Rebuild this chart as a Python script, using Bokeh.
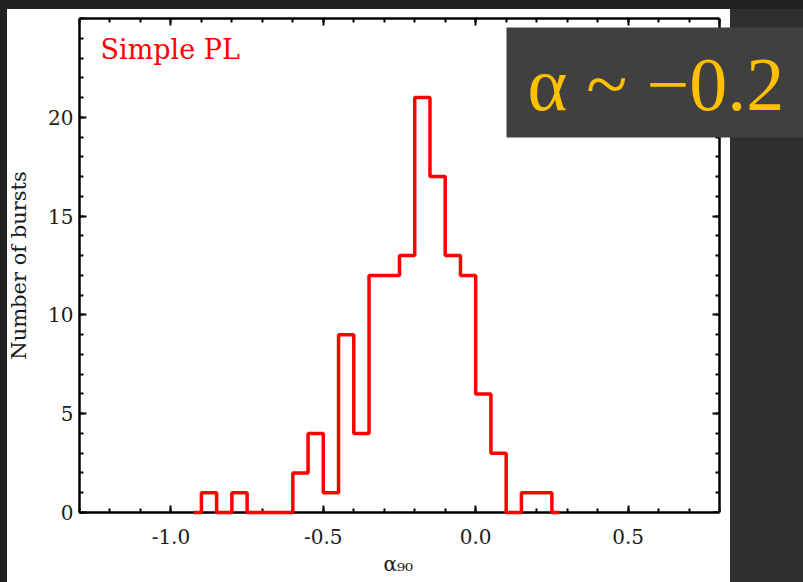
from bokeh.plotting import figure
from bokeh.models import (LinearAxis, FixedTicker, NumeralTickFormatter,
                          CustomJSTickFormatter, Label, Range1d, Title)
from bokeh.embed import file_html
from bokeh.resources import INLINE

# ---- data ----
bin_centers = [-0.925, -0.875, -0.825, -0.775, -0.725, -0.675, -0.625, -0.575,
               -0.525, -0.475, -0.425, -0.375, -0.325, -0.275, -0.225, -0.175,
               -0.125, -0.075, -0.025, 0.025, 0.075, 0.125, 0.175, 0.225, 0.275]
counts = [0, 1, 0, 1, 0, 0, 0, 2, 4, 1, 9, 4, 12, 12, 13, 21, 17, 13, 12, 6, 3, 0, 1, 1, 0]
x_limits = [-1.3, 0.8]
y_limits = [0, 25]
x_major_ticks = [-1.0, -0.5, 0.0, 0.5]
y_major_ticks = [0, 5, 10, 15, 20]
x_label = "α₉₀"
y_label = "Number of bursts"
model_label = "Simple PL"
callout_text = "α ~ −0.2"

SERIF = "DejaVu Serif"
INK = "#1a1a1a"

# axes box: 640 px wide for x_limits; the frame continues 84 px further right so
# that the callout box (which overhangs the axes box) is not clipped
AX_W = 640
EXTRA_W = 84
x_view_end = x_limits[1] + EXTRA_W * (x_limits[1] - x_limits[0]) / AX_W

x_minor = [round(-1.3 + 0.1 * i, 2) for i in range(22)]
y_minor = list(range(0, 26))

p = figure(width=803, height=582, output_backend="svg", toolbar_location=None,
           x_range=Range1d(x_limits[0], x_view_end), y_range=Range1d(*y_limits),
           min_border_left=79, min_border_right=0, min_border_top=18, min_border_bottom=70,
           border_fill_color=None, background_fill_color=None, outline_line_color=None,
           y_axis_label=y_label)
p.grid.visible = False

# page-like backdrop: dark surround with a white panel
p.styles = {
    "background-color": "#222222",
    "background-image": "linear-gradient(#ffffff,#ffffff), linear-gradient(#2f2f2f,#2f2f2f)",
    "background-position": "7px 9px, 730px 9px",
    "background-size": "723px 573px, 73px 573px",
    "background-repeat": "no-repeat",
}


def style_axis(ax, show_labels=True):
    ax.axis_line_color = "black"
    ax.axis_line_width = 2.5
    ax.major_tick_in = 7
    ax.major_tick_out = 0
    ax.minor_tick_in = 4
    ax.minor_tick_out = 0
    ax.major_tick_line_color = "black"
    ax.minor_tick_line_color = "black"
    ax.major_tick_line_width = 2
    ax.minor_tick_line_width = 2
    ax.major_label_text_font = SERIF
    ax.major_label_text_color = INK
    ax.major_label_text_font_size = "20px"
    ax.axis_label_text_font = SERIF
    ax.axis_label_text_font_style = "normal"
    ax.axis_label_text_color = INK
    if not show_labels:
        ax.formatter = CustomJSTickFormatter(code="return ''")
        ax.major_label_text_font_size = "1px"
        ax.major_label_standoff = 0


xax = p.xaxis[0]
xax.ticker = FixedTicker(ticks=x_major_ticks, minor_ticks=x_minor)
xax.formatter = NumeralTickFormatter(format="0.0")
xax.bounds = tuple(x_limits)
style_axis(xax)
xax.major_label_standoff = 16

yax = p.yaxis[0]
yax.ticker = FixedTicker(ticks=y_major_ticks, minor_ticks=y_minor)
style_axis(yax)
yax.major_label_standoff = 6
yax.axis_label_text_font_size = "21px"
yax.axis_label_standoff = 14

top_ax = LinearAxis(ticker=FixedTicker(ticks=x_major_ticks, minor_ticks=x_minor),
                    bounds=tuple(x_limits))
style_axis(top_ax, show_labels=False)
p.add_layout(top_ax, "above")

right_ax = LinearAxis(ticker=FixedTicker(ticks=y_major_ticks, minor_ticks=y_minor),
                      fixed_location=x_limits[1])
style_axis(right_ax, show_labels=False)
p.add_layout(right_ax, "right")

# x-axis title, centred under the axes box (not under the wider frame)
p.add_layout(Title(text=x_label, align="left", offset=304, standoff=6,
                   text_font=SERIF, text_font_size="20px", text_font_style="normal",
                   text_color=INK), "below")

# histogram (IDL-style step, steps midway between bin centres)
hist = p.step(x=bin_centers, y=counts, mode="center", line_color="#ff0000", line_width=3.5)
hist.level = "overlay"

p.add_layout(Label(x=-1.231, y=23.45, text=model_label, text_font=SERIF,
                   text_font_size="27px", text_color="#ff0000",
                   text_align="left", text_baseline="alphabetic"))

# callout box (screen units are measured from the frame's bottom-left corner)
p.add_layout(Label(x=427, y=485, x_units="screen", y_units="screen",
                   text=callout_text, text_font="Liberation Serif",
                   text_font_size="76px", text_color="#ffc000",
                   anchor="top_left",
                   background_fill_color="#404040",
                   padding=dict(left=21, right=60, top=14, bottom=12),
                   level="overlay"))

open("out.html", "w").write(file_html(p, INLINE))
